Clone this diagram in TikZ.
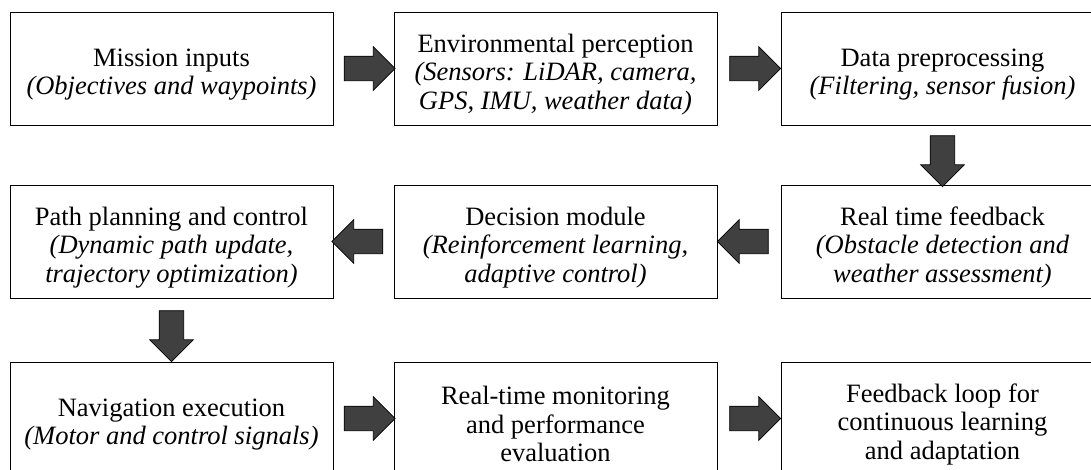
\documentclass[tikz,border=0pt]{standalone}
\usepackage{fontspec}
\setmainfont{Liberation Serif}
\usetikzlibrary{shapes.arrows, calc}

\definecolor{arrowgray}{HTML}{404040}
\newcommand{\topstrut}{\rule{0pt}{30pt}}

\begin{document}
\begin{tikzpicture}[x=1pt, y=-1pt,
		block/.style={draw=black, line width=0.9pt, fill=white, minimum width=323pt, minimum height=113pt,
			align=center, inner sep=4pt, font=\fontsize{26.5}{28.5}\selectfont},
		bigarrow/.style={single arrow, draw=black, line width=0.7pt, fill=arrowgray, inner xsep=0pt, inner ysep=12pt,
			minimum height=51pt, single arrow head extend=9.5pt}]
		
		% Recorte del lienzo
		\clip (0,0) rectangle (1091,469);
		
		% Primera fila
		\node[block] (mission) at (171.5,68.5) {\topstrut Mission inputs\\\textit{(Objectives and waypoints)}};
		\node[block] (percep) at (555.5,68.5) {\topstrut Environmental perception\\\textit{(Sensors: LiDAR, camera,}\\\textit{GPS, IMU, weather data)}};
		\node[block] (preproc) at (942.5,68.5) {\topstrut Data preprocessing\\\textit{(Filtering, sensor fusion)}};
		
		% Segunda fila
		\node[block] (planning) at (171.5,241.5) {\topstrut Path planning and control\\\textit{(Dynamic path update,}\\\textit{trajectory optimization)}};
		\node[block] (decision) at (555.5,241.5) {\topstrut Decision module\\\textit{(Reinforcement learning,}\\\textit{adaptive control)}};
		\node[block] (feedback) at (942.5,241.5) {\topstrut Real time feedback\\\textit{(Obstacle detection and}\\\textit{weather assessment)}};
		
		% Tercera fila
		\node[block] (execution) at (171.5,418.5) {\topstrut Navigation execution\\\textit{(Motor and control signals)}};
		\node[block] (monitoring) at (555.5,418.5) {\topstrut Real-time monitoring\\and performance\\evaluation};
		\node[block] (adapt) at (942.5,418.5) {\topstrut Feedback loop for\\continuous learning\\and adaptation};
		
		% Flechas entre bloques
		\node[bigarrow] (a1) at ($(mission.east)!0.5!(percep.west)$) {};
		\node[bigarrow] (a2) at ($(percep.east)!0.5!(preproc.west)$) {};
		\node[bigarrow, rotate=-90] (a3) at ($(preproc.south)!0.5!(feedback.north)$) {};
		\node[bigarrow, rotate=180] (a4) at ($(feedback.west)!0.5!(decision.east)$) {};
		\node[bigarrow, rotate=180] (a5) at ($(decision.west)!0.5!(planning.east)$) {};
		\node[bigarrow, rotate=-90] (a6) at ($(planning.south)!0.5!(execution.north)$) {};
		\node[bigarrow] (a7) at ($(execution.east)!0.5!(monitoring.west)$) {};
		\node[bigarrow] (a8) at ($(monitoring.east)!0.5!(adapt.west)$) {};
		
		\end{tikzpicture}
\end{document}
